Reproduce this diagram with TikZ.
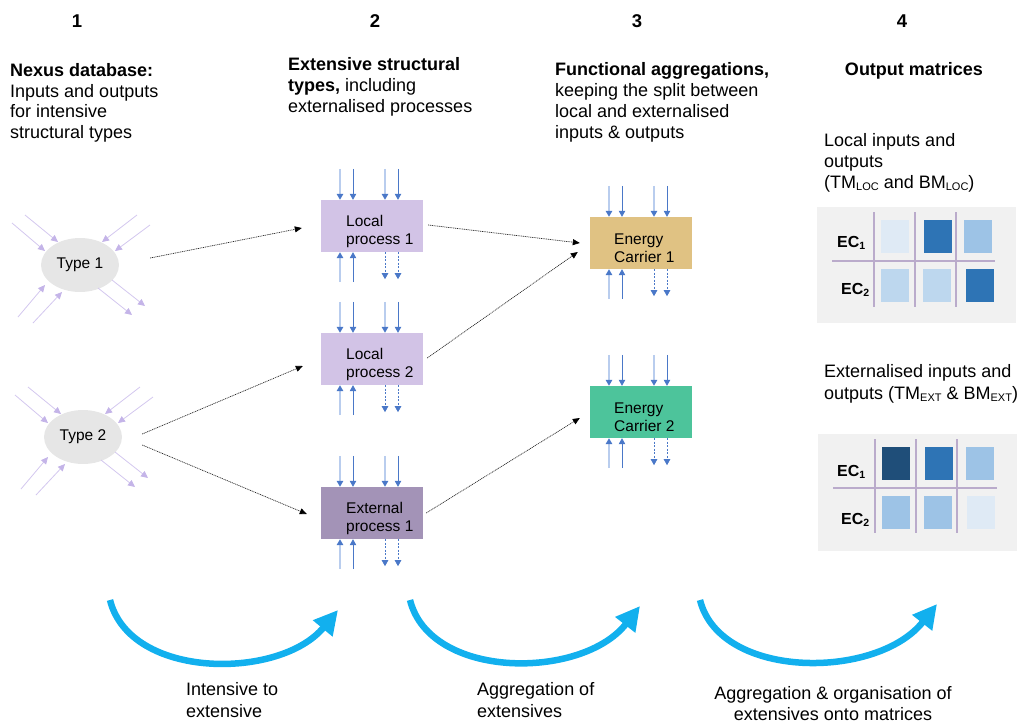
\documentclass[tikz,border=0pt]{standalone}
\usepackage{fontspec}
\setmainfont{Liberation Sans}
\usetikzlibrary{arrows.meta,shapes.geometric}
\definecolor{lav}{HTML}{D3C7EE}
\definecolor{lavhead}{HTML}{C4B4E8}
\definecolor{ellfill}{HTML}{E6E6E6}
\definecolor{lpfill}{HTML}{D2C3E6}
\definecolor{exfill}{HTML}{A393B7}
\definecolor{ecafill}{HTML}{E0C283}
\definecolor{ecbfill}{HTML}{4DC49B}
\definecolor{sblue}{HTML}{4A78C8}
\definecolor{sbluelt}{HTML}{B9CDEE}
\definecolor{bigblue}{HTML}{12B0EE}
\definecolor{panel}{HTML}{F1F1F1}
\definecolor{gridc}{HTML}{BAABCB}
\definecolor{mA}{HTML}{DFEAF5}
\definecolor{mB}{HTML}{2E74B5}
\definecolor{mC}{HTML}{9DC3E6}
\definecolor{mD}{HTML}{BDD7EE}
\definecolor{mE}{HTML}{1F4E79}
\newcommand\myBody{\fontsize{18}{21}\selectfont}
\newcommand\myNum{\fontsize{18.5}{21}\selectfont\bfseries}
\newcommand\myBox{\fontsize{15.5}{19}\selectfont}
\newcommand\myType{\fontsize{15.5}{18}\selectfont}
\newcommand\myEC{\fontsize{16}{19}\selectfont\bfseries}
\newcommand\mySub[1]{\raisebox{-0.3ex}{\fontsize{11}{11}\selectfont #1}}
\newcommand\myECsub[1]{\raisebox{-0.35ex}{\fontsize{10.5}{11}\selectfont #1}}
\begin{document}
\begin{tikzpicture}[x=1pt,y=-1pt,
  txt/.style={anchor=base west, inner sep=0pt, font=\myBody},
  txtc/.style={anchor=base, inner sep=0pt, font=\myBody},
  num/.style={anchor=base, inner sep=0pt, font=\myNum},
  typenode/.style={ellipse, fill=ellfill, minimum width=78pt, minimum height=54pt, inner sep=0pt, font=\myType},
  procbox/.style={rectangle, minimum width=102pt, minimum height=52pt, inner sep=0pt},
  boxtxt/.style={anchor=base west, inner sep=0pt, font=\myBox},
  eclab/.style={anchor=base west, inner sep=0pt, font=\myEC},
  lavarrow/.style={draw=lav, line width=0.8pt, -{Triangle[length=7pt,width=6.5pt,color=lavhead]}},
  conn/.style={draw=black!85, line width=0.7pt, dash pattern=on 1pt off 0.8pt, -{Triangle[length=7pt,width=6pt,color=black]}},
  inlight/.style={draw=sbluelt, line width=1.6pt, -{Triangle[length=6pt,width=6.5pt,color=sblue]}},
  indark/.style={draw=sblue, line width=0.8pt, -{Triangle[length=6pt,width=6.5pt,color=sblue]}},
  outdash/.style={draw=sblue, line width=0.8pt, dash pattern=on 2pt off 1.5pt, -{Triangle[length=6pt,width=6.5pt,color=sblue]}},
  bigarrow/.style={draw=bigblue, line width=6.5pt, -{Triangle[length=24pt,width=24pt]}},
  gridline/.style={draw=gridc, line width=1.2pt}
]
\useasboundingbox (0,0) rectangle (1023,723);

% column numbers
\node[num] (n1) at (77,27) {1};
\node[num] (n2) at (375,27) {2};
\node[num] (n3) at (637,27) {3};
\node[num] (n4) at (902,27) {4};

% column 1 header
\node[txt] (c1a) at (10,76) {\bfseries Nexus database:};
\node[txt] (c1b) at (10,97) {Inputs and outputs};
\node[txt] (c1c) at (10,117) {for intensive};
\node[txt] (c1d) at (10,138) {structural types};
% column 2 header
\node[txt] (c2a) at (288,70) {\bfseries Extensive structural};
\node[txt] (c2b) at (288,91) {\textbf{types,} including};
\node[txt] (c2c) at (288,112) {externalised processes};
% column 3 header
\node[txt] (c3a) at (555,75) {\bfseries Functional aggregations,};
\node[txt] (c3b) at (555,96) {keeping the split between};
\node[txt] (c3c) at (555,117) {local and externalised};
\node[txt] (c3d) at (555,138) {inputs \& outputs};
% column 4 header
\node[txtc] (c4a) at (914,75) {\bfseries Output matrices};
\node[txt] (c4b) at (824,146) {Local inputs and};
\node[txt] (c4c) at (824,167) {outputs};
\node[txt] (c4d) at (824,188) {(TM\mySub{LOC} and BM\mySub{LOC})};
\node[txt] (c4e) at (824,377) {Externalised inputs and};
\node[txt] (c4f) at (824,399) {outputs (TM\mySub{EXT} \& BM\mySub{EXT})};

% structural types
\node[typenode] (t1) at (80,265) {Type 1};
\node[typenode] (t2) at (83,437) {Type 2};
\foreach \t in {t1,t2}{
  \foreach \ax/\ay/\bx/\by in {-55/-50/-22/-23, -68/-42/-35/-14, 57/-50/22/-23, 70/-40/35/-14,
                               -62/52/-35/20, -47/58/-18/27}{
    \draw[lavarrow] ([shift={(\ax,\ay)}]\t.center) -- ([shift={(\bx,\by)}]\t.center);
  }
  \foreach \ax/\ay/\bx/\by in {32/15/65/41, 18/23/52/50}{
    \draw[lavarrow] ([shift={(\ax,\ay)}]\t.center) -- ([shift={(\bx,\by)}]\t.center);
  }
}

% process boxes
\node[procbox, fill=lpfill] (lp1) at (372,226) {};
\node[procbox, fill=lpfill] (lp2) at (372,359) {};
\node[procbox, fill=exfill] (ex1) at (372,513) {};
\node[procbox, fill=ecafill] (ec1) at (641,243) {};
\node[procbox, fill=ecbfill] (ec2) at (641,412) {};

\node[boxtxt] (lp1a) at ([shift={(-26,0)}]lp1.center) {Local};
\node[boxtxt] (lp1b) at ([shift={(-26,18)}]lp1.center) {process 1};
\node[boxtxt] (lp2a) at ([shift={(-26,0)}]lp2.center) {Local};
\node[boxtxt] (lp2b) at ([shift={(-26,18)}]lp2.center) {process 2};
\node[boxtxt] (ex1a) at ([shift={(-26,0)}]ex1.center) {External};
\node[boxtxt] (ex1b) at ([shift={(-26,18)}]ex1.center) {process 1};
\node[boxtxt] (ec1a) at ([shift={(-27,1)}]ec1.center) {Energy};
\node[boxtxt] (ec1b) at ([shift={(-27,19)}]ec1.center) {Carrier 1};
\node[boxtxt] (ec2a) at ([shift={(-27,1)}]ec2.center) {Energy};
\node[boxtxt] (ec2b) at ([shift={(-27,19)}]ec2.center) {Carrier 2};

% small input / output arrows on each box
\foreach \b in {lp1,lp2,ex1,ec1,ec2}{
  \foreach \dx/\st in {-32/inlight,-19/indark,13/inlight,26/indark}{
    \draw[\st] ([xshift=\dx pt, yshift=31pt]\b.north) -- ([xshift=\dx pt]\b.north);
  }
  \foreach \dx/\st in {-32/inlight,-19/indark}{
    \draw[\st] ([xshift=\dx pt, yshift=-30pt]\b.south) -- ([xshift=\dx pt]\b.south);
  }
  \foreach \dx in {13,26}{
    \draw[outdash] ([xshift=\dx pt]\b.south) -- ([xshift=\dx pt, yshift=-27pt]\b.south);
  }
}

% connectors
\draw[conn] ([shift={(31,-7)}]t1.east) -- ([shift={(-19,2)}]lp1.west);
\draw[conn] ([shift={(20,-3)}]t2.east) -- ([shift={(-18,7)}]lp2.west);
\draw[conn] ([shift={(20,8)}]t2.east) -- ([shift={(-14,1)}]ex1.west);
\draw[conn] ([shift={(5,-1)}]lp1.east) -- ([shift={(-10,0)}]ec1.west);
\draw[conn] ([shift={(4,-1)}]lp2.east) -- ([shift={(-12,9)}]ec1.west);
\draw[conn] ([shift={(3,0)}]ex1.east) -- ([shift={(-10,6)}]ec2.west);

% output matrix panel 1
\fill[panel] (817,207) rectangle (1016,323);
\fill[mA] (881,220) rectangle (909,253);
\fill[mB] (924,220) rectangle (952,253);
\fill[mC] (964,220) rectangle (992,253);
\fill[mD] (881,269) rectangle (909,302);
\fill[mD] (923,269) rectangle (951,302);
\fill[mB] (966,269) rectangle (994,302);
\draw[gridline] (874,212) -- (874,307);
\draw[gridline] (915,212) -- (915,307);
\draw[gridline] (956,212) -- (956,307);
\draw[gridline] (832,261) -- (995,261);
\node[eclab] (p1e1) at (837,247) {EC\myECsub{1}};
\node[eclab] (p1e2) at (841,294) {EC\myECsub{2}};

% output matrix panel 2
\fill[panel] (818,434) rectangle (1017,551);
\fill[mE] (882,447) rectangle (910,480);
\fill[mB] (925,447) rectangle (953,480);
\fill[mC] (966,447) rectangle (994,480);
\fill[mC] (882,496) rectangle (910,529);
\fill[mC] (924,496) rectangle (952,529);
\fill[mA] (967,496) rectangle (995,529);
\draw[gridline] (875,439) -- (875,533);
\draw[gridline] (916,439) -- (916,533);
\draw[gridline] (957,439) -- (957,533);
\draw[gridline] (833,488) -- (997,488);
\node[eclab] (p2e1) at (837,476) {EC\myECsub{1}};
\node[eclab] (p2e2) at (841,524) {EC\myECsub{2}};

% big process arrows
\coordinate (a1s) at (110,600);
\coordinate (a1e) at (338,610);
\coordinate (a2s) at (410,600);
\coordinate (a2e) at (640,606);
\coordinate (a3s) at (700,600);
\coordinate (a3e) at (937,604);
\draw[bigarrow] (a1s) .. controls (130,680) and (280,680) .. (a1e);
\draw[bigarrow] (a2s) .. controls (430,680) and (582,680) .. (a2e);
\draw[bigarrow] (a3s) .. controls (720,680) and (877,680) .. (a3e);

% bottom labels
\node[txt] (b1a) at (186,695) {Intensive to};
\node[txt] (b1b) at (186,717) {extensive};
\node[txt] (b2a) at (477,695) {Aggregation of};
\node[txt] (b2b) at (477,717) {extensives};
\node[txtc] (b3a) at (833,699) {Aggregation \& organisation of};
\node[txtc] (b3b) at (833,720) {extensives onto matrices};
\end{tikzpicture}
\end{document}
